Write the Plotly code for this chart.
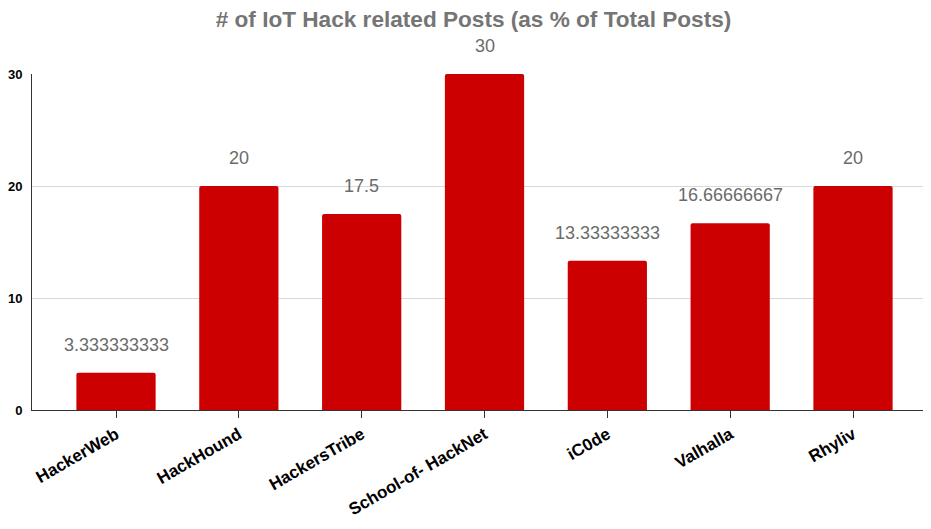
import plotly.graph_objects as go

categories = ["HackerWeb", "HackHound", "HackersTribe", "School-of- HackNet", "iC0de", "Valhalla", "Rhyliv"]
values = [3.333333333, 20, 17.5, 30, 13.33333333, 16.66666667, 20]
value_labels = ["3.333333333", "20", "17.5", "30", "13.33333333", "16.66666667", "20"]
y_ticks = [0, 10, 20, 30]

fig = go.Figure()
fig.add_trace(go.Bar(
    x=list(range(len(categories))), y=values,
    marker=dict(color="#cc0000", line=dict(width=0), cornerradius=2),
    width=0.645,
    hoverinfo="skip",
))

for i, (v, t) in enumerate(zip(values, value_labels)):
    fig.add_annotation(x=i, y=v, text=t, showarrow=False, yanchor="middle", yshift=28,
                       font=dict(family="Arial, Liberation Sans", size=18, color="#6b6b6b"))

fig.update_layout(
    width=931, height=529,
    margin=dict(l=24, r=8, t=66, b=127, autoexpand=False),
    paper_bgcolor="white", plot_bgcolor="white",
    title=dict(text="<b># of IoT Hack related Posts (as % of Total Posts)</b>",
               x=0.5, xanchor="center", y=0.979, yanchor="middle",
               font=dict(family="Arial, Liberation Sans", size=22.6, color="#757575")),
    showlegend=False,
    xaxis=dict(
        range=[-0.684, 6.635], automargin=False,
        tickmode="array", tickvals=list(range(len(categories))),
        ticktext=["<b>%s</b>" % c for c in categories],
        tickangle=-30,
        ticks="outside", ticklen=7, tickcolor="#333333", tickwidth=1,
        showline=True, linecolor="#333333", linewidth=1,
        showgrid=False, zeroline=False,
        tickfont=dict(family="Arial, Liberation Sans", size=17, color="#000000"),
    ),
    yaxis=dict(
        range=[0, 30], automargin=False,
        tickmode="array", tickvals=y_ticks,
        ticktext=["<b>%d</b>" % t for t in y_ticks],
        showline=True, linecolor="#333333", linewidth=1,
        showgrid=True, gridcolor="#d9d9d9", gridwidth=1,
        zeroline=False, ticks="", ticklabelstandoff=6,
        tickfont=dict(family="Arial, Liberation Sans", size=13, color="#000000"),
    ),
)

fig.write_html("out.html")
